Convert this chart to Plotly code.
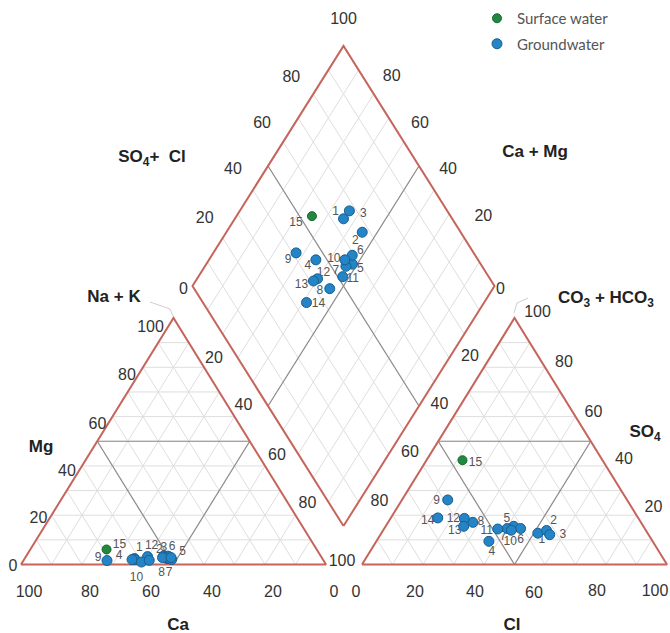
import plotly.graph_objects as go

# ---------------- data (percent of meq/L) ----------------
samples = [str(i) for i in range(1, 16)]
water_type = ["Groundwater"] * 14 + ["Surface water"]

# cations
Ca = [61.6, 51.6, 61.7, 62.6, 49.6, 50.1, 50.9, 51.2, 71.0, 52.2, 49.4, 56.9, 60.0, 57.1, 68.9]
Mg = [2.4, 3.4, 2.0, 2.0, 2.0, 3.4, 2.4, 2.8, 1.6, 2.8, 2.8, 3.2, 1.0, 1.7, 6.1]
NaK = [36.0, 45.0, 36.3, 35.4, 48.4, 46.5, 46.7, 46.0, 27.4, 45.0, 47.8, 39.9, 39.0, 41.2, 25.0]
# anions
HCO3 = [36.0, 32.6, 32.4, 53.7, 42.5, 40.7, 45.1, 55.1, 58.8, 44.1, 48.3, 57.1, 58.9, 65.7, 45.9]
SO4 = [12.7, 13.8, 12.1, 9.4, 15.5, 14.6, 14.6, 17.1, 26.2, 13.9, 14.4, 18.7, 15.5, 18.9, 42.3]
Cl = [51.3, 53.6, 55.5, 36.9, 42.0, 44.7, 40.3, 27.8, 15.0, 42.0, 37.3, 24.2, 25.6, 15.4, 11.8]

tick_vals = [0, 20, 40, 60, 80, 100]

# ---------------- geometry (pixel space of the 670x633 canvas) ----------------
W, H = 670, 633
CAT_X0, ANI_X0, BASE_Y = 21.0, 362.0, 564.5
SIDE, TRI_H = 305.0, 246.5
DIA_BX, DIA_BY, DIA_HW, DIA_HH = 343.5, 526.0, 151.0, 240.0

EDGE_C = "#c6655c"
GRID_C = "#dedede"
DIV_C = "#8c8c8c"
TXT_C = "#333333"


def cat_xy(ca, mg, na):
    t = ca + mg + na
    mg, na = mg / t, na / t
    return CAT_X0 + SIDE * (na + mg / 2), BASE_Y - TRI_H * mg


def ani_xy(hco3, so4, cl):
    t = hco3 + so4 + cl
    so4, cl = so4 / t, cl / t
    return ANI_X0 + SIDE * (cl + so4 / 2), BASE_Y - TRI_H * so4


def dia_xy(cam, so4cl):
    c, a = cam / 100.0, so4cl / 100.0
    return DIA_BX + DIA_HW * (a - c), DIA_BY - DIA_HH * (a + c)


def seg(xs, ys, p, q):
    xs += [p[0], q[0], None]
    ys += [p[1], q[1], None]


fig = go.Figure()

# ---------------- grid ----------------
gx, gy = [], []
for k in range(10, 100, 10):
    seg(gx, gy, cat_xy(100 - k, k, 0), cat_xy(0, k, 100 - k))
    seg(gx, gy, cat_xy(100 - k, 0, k), cat_xy(0, 100 - k, k))
    seg(gx, gy, cat_xy(k, 0, 100 - k), cat_xy(k, 100 - k, 0))
    seg(gx, gy, ani_xy(100 - k, k, 0), ani_xy(0, k, 100 - k))
    seg(gx, gy, ani_xy(100 - k, 0, k), ani_xy(0, 100 - k, k))
    seg(gx, gy, ani_xy(k, 0, 100 - k), ani_xy(k, 100 - k, 0))
    seg(gx, gy, dia_xy(0, k), dia_xy(100, k))
    seg(gx, gy, dia_xy(k, 0), dia_xy(k, 100))
fig.add_trace(go.Scatter(x=gx, y=gy, mode="lines", line=dict(color=GRID_C, width=1),
                         hoverinfo="skip", showlegend=False))

# ---------------- facies division lines ----------------
dx_, dy_ = [], []
for f in (cat_xy, ani_xy):
    m1, m2, m3 = f(50, 50, 0), f(0, 50, 50), f(50, 0, 50)
    seg(dx_, dy_, m1, m2)
    seg(dx_, dy_, m1, m3)
    seg(dx_, dy_, m2, m3)
seg(dx_, dy_, dia_xy(100, 50), dia_xy(0, 50))
seg(dx_, dy_, dia_xy(50, 0), dia_xy(50, 100))
fig.add_trace(go.Scatter(x=dx_, y=dy_, mode="lines", line=dict(color=DIV_C, width=1.2),
                         hoverinfo="skip", showlegend=False))

# ---------------- outlines ----------------
ex, ey = [], []
for f in (cat_xy, ani_xy):
    pts = [f(100, 0, 0), f(0, 0, 100), f(0, 100, 0), f(100, 0, 0)]
    ex += [p[0] for p in pts] + [None]
    ey += [p[1] for p in pts] + [None]
pts = [dia_xy(0, 0), dia_xy(0, 100), dia_xy(100, 100), dia_xy(100, 0), dia_xy(0, 0)]
ex += [p[0] for p in pts]
ey += [p[1] for p in pts]
fig.add_trace(go.Scatter(x=ex, y=ey, mode="lines", line=dict(color=EDGE_C, width=2),
                         hoverinfo="skip", showlegend=False))

# ---------------- tick labels ----------------
tx, ty, tt = [], [], []


def tick(p, off, v):
    tx.append(p[0] + off[0])
    ty.append(p[1] + off[1])
    tt.append(str(v))


mg_off = [(-8, 2), (-13, 4), (-15, 6), (-15, 8), (-16, 9), (-23, 10)]
for v, o in zip(tick_vals, mg_off):
    tick(cat_xy(100 - v, v, 0), o, v)
na_off = [(10, -8), (9, -11), (12, -10), (12, -11), (16, -3)]
for v, o in zip(tick_vals[1:], na_off):
    tick(cat_xy(0, 100 - v, v), o, v)
for v in tick_vals:
    tick(cat_xy(v, 0, 100 - v), (8, 28), v)

cl_off = [(-6, 28), (-8, 28), (-9, 28), (-11, 29), (-9, 27), (-12, 27)]
for v, o in zip(tick_vals, cl_off):
    tick(ani_xy(100 - v, 0, v), o, v)
hc_off = [(-14, -10), (-14, -12), (-13, -13), (-13, -13)]   # 100 shared with Na+K label
for v, o in zip(tick_vals[1:-1], hc_off):
    tick(ani_xy(v, 100 - v, 0), o, v)
so_off = [(17, -7), (18, -6), (18, -4), (19, -4), (23, -5)]
for v, o in zip(tick_vals[1:], so_off):
    tick(ani_xy(0, v, 100 - v), o, v)

sc_off = [(-9, 4), (-18, -19), (-20, -20), (-21, -18), (-22, -16), (0, -26)]
for v, o in zip(tick_vals, sc_off):
    tick(dia_xy(100, v), o, v)
cm_off = [(6, 4), (19, -21), (14, -20), (16, -18), (18, -17)]
for v, o in zip(tick_vals[:-1], cm_off):
    tick(dia_xy(v, 100), o, v)

fig.add_trace(go.Scatter(x=tx, y=ty, text=tt, mode="text",
                         textfont=dict(family="Liberation Sans, Arial", size=16, color=TXT_C),
                         hoverinfo="skip", showlegend=False))

# ---------------- axis titles ----------------
titles = [
    ("<b>SO<sub>4</sub>+  Cl</b>", 152, 158),
    ("<b>Ca + Mg</b>", 535, 153),
    ("<b>Na + K</b>", 114, 298),
    ("<b>Mg</b>", 41, 448),
    ("<b>Ca</b>", 178, 626),
    ("<b>Cl</b>", 512, 626),
    ("<b>CO<sub>3</sub> + HCO<sub>3</sub></b>", 606, 299),
    ("<b>SO<sub>4</sub></b>", 645, 433),
]
fig.add_trace(go.Scatter(x=[t[1] for t in titles], y=[t[2] for t in titles],
                         text=[t[0] for t in titles], mode="text",
                         textfont=dict(family="Liberation Sans, Arial", size=17, color="#222222"),
                         hoverinfo="skip", showlegend=False))

# ---------------- sample number labels (drawn under markers) ----------------
cat_lab = {"15": (13, -4), "9": (-9, -3), "4": (-13, -4), "1": (5, -11), "12": (4, -11),
           "10": (-26, 20), "3": (29, -12), "6": (4, -9), "5": (11, -8), "8": (-4, 15),
           "7": (2, 14), "2": (-4, -6)}
ani_lab = {"15": (13, 3), "9": (-11, 1), "14": (-10, 3), "12": (-11, 1), "13": (-9, 5),
           "8": (8, 0), "11": (-11, 2), "4": (3, 11), "5": (-7, -7), "7": (-4, 8),
           "10": (-1, 12), "6": (0, 11), "1": (4, 7), "2": (7, -9), "3": (13, 0)}
dia_lab = {"15": (-16, 7), "1": (-8, -7), "3": (14, 3), "2": (-7, 9), "9": (-8, 7),
           "4": (-8, 6), "10": (-11, -1), "6": (8, -4), "5": (8, 5), "12": (6, -6),
           "7": (-10, 5), "13": (-12, 4), "11": (10, 2), "8": (-10, 2), "14": (12, 1)}

lx, ly, lt = [], [], []
for i, s in enumerate(samples):
    p = cat_xy(Ca[i], Mg[i], NaK[i])
    if s in cat_lab:
        lx.append(p[0] + cat_lab[s][0]); ly.append(p[1] + cat_lab[s][1]); lt.append(s)
    p = ani_xy(HCO3[i], SO4[i], Cl[i])
    lx.append(p[0] + ani_lab[s][0]); ly.append(p[1] + ani_lab[s][1]); lt.append(s)
    p = dia_xy(Ca[i] + Mg[i], SO4[i] + Cl[i])
    lx.append(p[0] + dia_lab[s][0]); ly.append(p[1] + dia_lab[s][1]); lt.append(s)
fig.add_trace(go.Scatter(x=lx, y=ly, text=lt, mode="text",
                         textfont=dict(family="Liberation Sans, Arial", size=12, color="#555555"),
                         hoverinfo="skip", showlegend=False))

# ---------------- sample markers ----------------
styles = {"Surface water": dict(color="#22873f", line=dict(color="#176a2e", width=1), size=9),
          "Groundwater": dict(color="#2484c6", line=dict(color="#175f91", width=1), size=10)}
for wt in ["Surface water", "Groundwater"]:
    xs, ys = [], []
    for i in range(len(samples)):
        if water_type[i] != wt:
            continue
        for p in (cat_xy(Ca[i], Mg[i], NaK[i]),
                  ani_xy(HCO3[i], SO4[i], Cl[i]),
                  dia_xy(Ca[i] + Mg[i], SO4[i] + Cl[i])):
            xs.append(p[0]); ys.append(p[1])
    fig.add_trace(go.Scatter(x=xs, y=ys, mode="markers", name=wt, marker=styles[wt],
                             legendgroup=wt))

# small pointer strokes beside two titles
fig.add_shape(type="path", path="M 150 302 L 170 309 L 173 316",
              line=dict(color="#cfcfcf", width=1), layer="below")
fig.add_shape(type="path", path="M 514 313 L 517 303 L 528 298",
              line=dict(color="#cfcfcf", width=1), layer="below")

fig.update_layout(
    width=W, height=H, autosize=False,
    margin=dict(l=0, r=0, t=0, b=0),
    paper_bgcolor="white", plot_bgcolor="white",
    xaxis=dict(range=[0, W], visible=False, fixedrange=True),
    yaxis=dict(range=[H, 0], visible=False, fixedrange=True),
    legend=dict(x=477 / W, y=1 - 2 / H, xanchor="left", yanchor="top",
                font=dict(family="Lato, Open Sans", size=15, color="#555555"),
                traceorder="grouped", tracegroupgap=3, bgcolor="rgba(0,0,0,0)"),
)

fig.write_html("out.html", config={"displayModeBar": False},
               post_script="document.body.style.margin='0';document.body.style.overflow='hidden';")
